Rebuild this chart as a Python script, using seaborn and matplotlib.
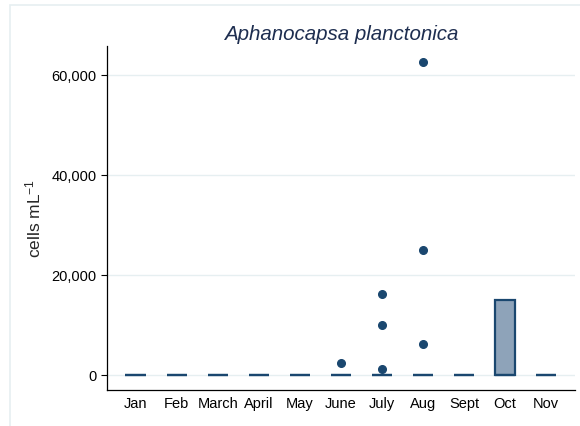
import numpy as np
import pandas as pd
import seaborn as sns
import matplotlib.pyplot as plt
from matplotlib.patches import Rectangle
from matplotlib.ticker import FuncFormatter

# months and samples (cells per mL) - most samples are zero
months = ['Jan', 'Feb', 'March', 'April', 'May', 'June', 'July', 'Aug', 'Sept', 'Oct', 'Nov']
zero_counts = [12, 12, 12, 12, 12, 12, 12, 12, 12, 3, 12]
nonzero = {
    'June': [2500],
    'July': [1200, 10000, 16300],
    'Aug': [6300, 25000, 62700],
    'Oct': [15000, 15000],
}

rows = []
for m, nz in zip(months, zero_counts):
    rows += [(m, 0.0)] * nz
    rows += [(m, float(v)) for v in nonzero.get(m, [])]
df = pd.DataFrame(rows, columns=['month', 'cells'])

sns.set_style('white')
plt.rcParams['font.family'] = ['Liberation Sans', 'DejaVu Sans']
plt.rcParams['mathtext.fontset'] = 'custom'
plt.rcParams['mathtext.rm'] = 'Liberation Sans'
plt.rcParams['mathtext.it'] = 'Liberation Sans:italic'

navy = '#1a476f'
fig = plt.figure(figsize=(5.8, 4.26), dpi=100)
ax = fig.add_axes([0.1845, 0.0845, 0.8065, 0.8075])

sns.boxplot(data=df, x='month', y='cells', order=months, ax=ax,
            color='#8ea3b9', linecolor=navy, saturation=1, width=0.5,
            linewidth=1.6, showcaps=False,
            medianprops=dict(color=navy, linewidth=1.6),
            flierprops=dict(marker='o', markerfacecolor=navy, markeredgecolor=navy,
                            markersize=5.5))

ax.set_xlim(-0.7, 10.7)
ax.set_ylim(-3000, 65800)
ax.set_yticks([0, 20000, 40000, 60000])
ax.yaxis.set_major_formatter(FuncFormatter(lambda v, p: f'{int(v):,}'))
ax.grid(axis='y', color='#e6eff1', linewidth=1)
ax.set_axisbelow(True)
for s in ['top', 'right']:
    ax.spines[s].set_visible(False)
for s in ['left', 'bottom']:
    ax.spines[s].set_color('black')
    ax.spines[s].set_linewidth(0.9)
ax.tick_params(axis='y', left=True, length=4.5, width=0.8, pad=3, labelsize=10.5, colors='black')
ax.tick_params(axis='x', bottom=False, length=0, pad=5, labelsize=10.5, colors='black')
ax.set_xlabel('')
ax.set_ylabel('cells mL$^{-1}$', fontsize=12.5, labelpad=6)
ax.set_title('Aphanocapsa planctonica', fontstyle='italic', fontsize=14.8,
             color='#1e2e50', pad=4)

# light outer frame like a Stata graph region
fig.patches.append(Rectangle((10 / 580, -0.1), 1.2, 1.1 - 5 / 426, transform=fig.transFigure,
                             fill=False, edgecolor='#e6eff1', linewidth=1.2))

fig.savefig('out.png', dpi=100)
